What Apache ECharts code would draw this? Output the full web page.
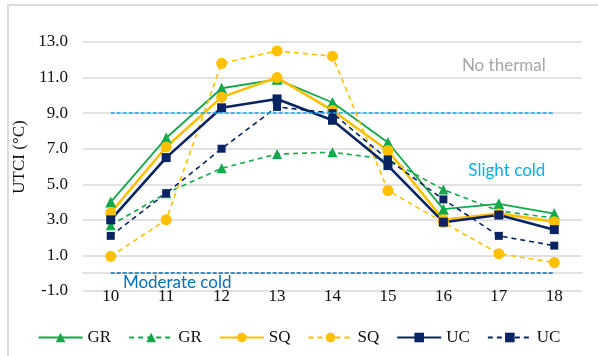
<!DOCTYPE html>
<html>
<head>
<meta charset="utf-8">
<script src="https://cdn.jsdelivr.net/npm/echarts@6/dist/echarts.min.js"></script>
<style>
  html, body { margin: 0; padding: 0; background: #ffffff; }
  #chart { width: 598px; height: 356px; }
</style>
</head>
<body>
<div id="chart"></div>
<script>
// Hours of the day
const hours = ['10', '11', '12', '13', '14', '15', '16', '17', '18'];

// UTCI (°C) per site; solid and dashed variants
const grSolid = [4.0, 7.6, 10.4, 10.9, 9.6, 7.35, 3.6, 3.9, 3.35];
const grDashed = [2.7, 4.5, 5.9, 6.7, 6.8, 6.4, 4.7, 3.5, 3.1];
const sqSolid = [3.4, 7.1, 9.9, 11.0, 9.15, 6.9, 3.0, 3.35, 2.9];
const sqDashed = [0.95, 3.0, 11.8, 12.5, 12.2, 4.65, 2.85, 1.1, 0.6];
const ucSolid = [3.0, 6.5, 9.3, 9.8, 8.6, 6.05, 2.87, 3.27, 2.45];
const ucDashed = [2.1, 4.5, 7.0, 9.35, 9.0, 6.4, 4.15, 2.1, 1.55];

// Thermal stress class boundaries and labels
const noThermalBound = 9;
const moderateColdBound = 0;
const yTicks = { min: -1, max: 13, step: 2 };

const GREEN = '#12a94a';
const YELLOW = '#ffc000';
const NAVY = '#0a2463';
const LIGHT_BLUE = '#00b0f0';
const MID_BLUE = '#0070c0';
const SERIF = '"Liberation Serif", "DejaVu Serif", serif';
const SANS = 'Lato, "Open Sans", sans-serif';

function lineSeries(name, data, color, symbol, size, dashed, width) {
  return {
    name: name,
    type: 'line',
    data: data,
    symbol: symbol,
    symbolSize: size,
    showSymbol: true,
    lineStyle: { color: color, width: width, type: dashed ? [5, 4] : 'solid' },
    itemStyle: { color: color },
    emphasis: { disabled: true },
    animation: false
  };
}

const series = [
  lineSeries('GR-1', grSolid, GREEN, 'triangle', 11, false, 1.8),
  lineSeries('GR-2', grDashed, GREEN, 'triangle', 10, true, 1.6),
  lineSeries('SQ-1', sqSolid, YELLOW, 'circle', 11, false, 2.6),
  lineSeries('SQ-2', sqDashed, YELLOW, 'circle', 11, true, 1.6),
  lineSeries('UC-1', ucSolid, NAVY, 'rect', 9, false, 2.6),
  lineSeries('UC-2', ucDashed, NAVY, 'rect', 8, true, 1.6)
];

function boundary(value, color) {
  return {
    silent: true,
    symbol: 'none',
    label: { show: false },
    lineStyle: { color: color, type: [4, 2], width: 1.5 },
    emphasis: { disabled: true },
    data: [[
      { coord: [hours[0], value] },
      { coord: [hours[hours.length - 1], value] }
    ]]
  };
}

// Class boundary lines
series[0].markLine = boundary(noThermalBound, LIGHT_BLUE);
series[1].markLine = boundary(moderateColdBound, MID_BLUE);

// Class names
series[0].markPoint = {
  silent: true,
  symbol: 'circle',
  symbolSize: 0,
  data: [
    { coord: ['17', 11.7], label: { formatter: 'No thermal', color: '#a6a6a6', offset: [5, 0] } },
    { coord: ['17', 5.8], label: { formatter: 'Slight cold', color: LIGHT_BLUE, offset: [8, 0] } },
    { coord: ['11', -0.5], label: { formatter: 'Moderate cold', color: MID_BLUE, offset: [11, 0] } }
  ],
  label: {
    show: true,
    position: 'inside',
    fontFamily: SANS,
    fontSize: 17
  }
};

const chart = echarts.init(document.getElementById('chart'), null, { renderer: 'canvas' });
chart.setOption({
  backgroundColor: '#ffffff',
  animation: false,
  grid: { left: 83, right: 16, top: 42, bottom: 65 },
  xAxis: {
    type: 'category',
    data: hours,
    boundaryGap: true,
    axisLine: { show: true, lineStyle: { color: '#d9d9d9', width: 1.5 } },
    axisTick: { show: false },
    axisLabel: {
      color: '#111',
      fontFamily: SERIF,
      fontSize: 17,
      margin: 6,
      verticalAlign: 'middle'
    }
  },
  yAxis: {
    type: 'value',
    min: yTicks.min,
    max: yTicks.max,
    interval: yTicks.step,
    axisLine: { show: false },
    axisTick: { show: false },
    splitLine: { lineStyle: { color: '#d9d9d9', width: 1.5 } },
    axisLabel: {
      color: '#111',
      fontFamily: SERIF,
      fontSize: 17,
      margin: 15,
      formatter: v => v.toFixed(1)
    }
  },
  legend: {
    left: 'center',
    top: 324,
    itemWidth: 44,
    itemHeight: 12,
    itemGap: 17,
    selectedMode: false,
    formatter: n => n.split('-')[0],
    textStyle: { fontFamily: SERIF, fontSize: 17, color: '#111' },
    data: series.map(s => s.name)
  },
  graphic: [
    {
      type: 'rect',
      silent: true,
      shape: { x: 8, y: 5, width: 700, height: 500 },
      style: { fill: 'none', stroke: '#dcdcdc', lineWidth: 2 }
    },
    {
      type: 'text',
      silent: true,
      x: 20,
      y: 157,
      rotation: Math.PI / 2,
      style: {
        text: 'UTCI (°C)',
        fontFamily: SERIF,
        fontSize: 17,
        fill: '#111',
        align: 'center',
        verticalAlign: 'middle'
      }
    }
  ],
  series: series
});
</script>
</body>
</html>
